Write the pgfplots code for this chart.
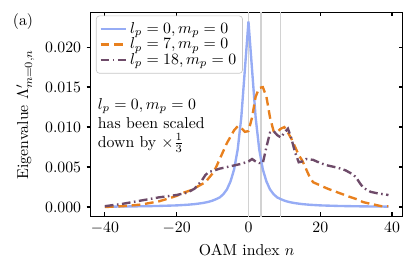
\documentclass[border=0pt]{standalone}
\usepackage{pgfplots}
\pgfplotsset{compat=1.18}
\definecolor{cblue}{RGB}{150,172,245}
\definecolor{corange}{RGB}{232,128,30}
\definecolor{cpurple}{RGB}{110,75,105}
\begin{document}
\begin{tikzpicture}
\useasboundingbox (-57.4pt,-34.0pt) rectangle (205.3pt,136.9pt);
\begin{axis}[
  scale only axis, width=197.5pt, height=129.1pt,
  xmin=-43.95, xmax=42.95, ymin=-0.00116, ymax=0.02436,
  xtick={-40,-20,0,20,40},
  ytick={0,0.005,0.010,0.015,0.020},
  xtick pos=both, xtick align=inside,
  ytick pos=left, ytick align=outside,
  major tick length=2.5pt,
  scaled y ticks=false,
  yticklabel style={/pgf/number format/fixed,/pgf/number format/fixed zerofill,/pgf/number format/precision=3},
  axis line style={line width=0.8pt},
  tick style={line width=0.8pt, black},
  xlabel={OAM index $n$},
  ylabel={Eigenvalue $\Lambda'_{m=0,n}$},
  legend style={at={(0.017,0.984)}, anchor=north west, draw=gray!45, rounded corners=2pt, fill=white, fill opacity=0.8, text opacity=1, row sep=-2.5pt, inner sep=2pt},
  legend cell align=left,
  legend image code/.code={\draw[#1] plot coordinates {(0cm,0cm) (0.28cm,0cm) (0.56cm,0cm)};},
]
\addplot[gray!35, line width=0.8pt, forget plot] coordinates {(0,-0.01) (0,0.03)};
\addplot[gray!35, line width=0.8pt, forget plot] coordinates {(3.5,-0.01) (3.5,0.03)};
\addplot[gray!35, line width=0.8pt, forget plot] coordinates {(9,-0.01) (9,0.03)};
\addplot[cblue, line width=1.5pt] coordinates {
(-40,0.00004) (-35,0.00006) (-30,0.00009) (-25,0.00013) (-20,0.0002) (-17,0.00028)
(-15,0.00036) (-13,0.00048) (-12,0.00056) (-11,0.00066) (-10,0.0008) (-9,0.00098)
(-8,0.0012) (-7,0.0016) (-6,0.0022) (-5,0.0032) (-4,0.0047) (-3,0.0072) (-2,0.0112)
(-1,0.0172) (0,0.0232) (1,0.0172) (2,0.0112) (3,0.0072) (4,0.0047) (5,0.0032)
(6,0.0022) (7,0.0016) (8,0.0012) (9,0.00098) (10,0.0008) (11,0.00066) (12,0.00056)
(13,0.00048) (15,0.00036) (17,0.00028) (20,0.0002) (25,0.00013) (30,0.00009)
(35,0.00006) (39,0.00005)};
\addlegendentry{$l_p=0, m_p=0$}
\addplot[corange, line width=1.5pt, dash pattern=on 5.5pt off 3pt] coordinates {
(-40,0.0000) (-35,0.0001) (-30,0.0003) (-25,0.0007) (-22,0.0011) (-20,0.0014)
(-18,0.0018) (-16,0.0021) (-14,0.0026) (-12,0.0031) (-10,0.0042) (-9,0.0050)
(-8,0.0060) (-7,0.0070) (-6,0.0080) (-5,0.0088) (-4,0.0096) (-3,0.0101) (-2,0.0099)
(-1,0.0094) (0,0.0095) (1,0.0112) (2,0.0138) (3,0.0149) (4,0.0150) (5,0.0138)
(6,0.0112) (7,0.0095) (8,0.0094) (9,0.0098) (10,0.0100) (11,0.0093) (12,0.0085)
(13,0.0075) (14,0.0065) (15,0.0058) (16,0.0048) (17,0.0038) (18,0.0031) (20,0.0027)
(22,0.0023) (25,0.0018) (28,0.0013) (30,0.0010) (32,0.0006) (35,0.0003) (37,0.0001)
(39,0.0001)};
\addlegendentry{$l_p=7, m_p=0$}
\addplot[cpurple, line width=1.5pt, dash pattern=on 5.5pt off 2.2pt on 1pt off 2.2pt] coordinates {
(-40,0.0001) (-35,0.0004) (-30,0.0008) (-25,0.0012) (-20,0.0015) (-17,0.0018)
(-15,0.0023) (-13,0.0033) (-12,0.0040) (-11,0.0044) (-10,0.0045) (-8,0.0048)
(-6,0.0050) (-4,0.0052) (-2,0.0054) (0,0.0057) (1,0.0060) (2,0.0057) (3,0.0055)
(4,0.0055) (5,0.0075) (6,0.0093) (7,0.0095) (8,0.0090) (9,0.0087) (10,0.0093)
(11,0.0098) (12,0.0085) (13,0.0068) (14,0.0056) (15,0.0057) (16,0.0060) (18,0.0059)
(20,0.0055) (22,0.0052) (25,0.0049) (27,0.0046) (29,0.0041) (30,0.0037) (31,0.0030)
(32,0.0024) (34,0.0019) (36,0.0017) (39,0.0015)};
\addlegendentry{$l_p=18, m_p=0$}
\node[anchor=north west, align=left, inner sep=0pt] at (rel axis cs:0.022,0.58)
  {$l_p=0, m_p=0$\\has been scaled\\down by $\times\frac{1}{3}$};
\end{axis}
\begin{axis}[
  scale only axis, width=197.5pt, height=129.1pt,
  xmin=-43.95, xmax=42.95, ymin=-0.00116, ymax=0.02436,
  axis line style={draw=none},
  xtick=\empty,
  scaled y ticks=false,
  ytick={0,0.005,0.010,0.015,0.020},
  ytick pos=right, ytick align=inside,
  yticklabels={},
  major tick length=2.5pt,
  tick style={line width=0.8pt, black},
]
\end{axis}
\node[anchor=north west, inner sep=0pt] at ([xshift=-49.4pt,yshift=-0.5pt]current axis.north west) {(a)};
\end{tikzpicture}
\end{document}
